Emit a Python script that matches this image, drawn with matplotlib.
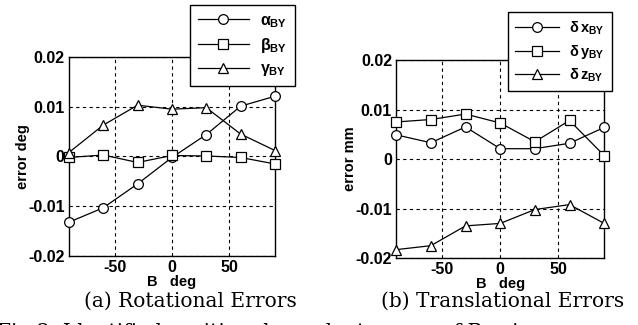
import matplotlib
matplotlib.use("Agg")
import matplotlib.pyplot as plt

angles = [-90, -60, -30, 0, 30, 60, 90]
alpha_by = [-0.0132, -0.0103, -0.0055, -0.0002, 0.0044, 0.0101, 0.0121]
beta_by = [-0.0002, 0.0003, -0.0012, 0.0002, 0.0001, -0.0002, -0.0015]
gamma_by = [0.0008, 0.0063, 0.0103, 0.0095, 0.0098, 0.0045, 0.0012]
dx_by = [0.0049, 0.0033, 0.0065, 0.0021, 0.0021, 0.0032, 0.0064]
dy_by = [0.0075, 0.0080, 0.0091, 0.0073, 0.0035, 0.0078, 0.0007]
dz_by = [-0.0183, -0.0175, -0.0135, -0.0130, -0.0102, -0.0092, -0.0130]

xticks = [-50, 0, 50]
yticks = [-0.02, -0.01, 0, 0.01, 0.02]
ytick_labels = ["-0.02", "-0.01", "0", "0.01", "0.02"]

plt.rcParams['mathtext.fontset'] = 'custom'
plt.rcParams['mathtext.rm'] = 'Liberation Sans:bold'
plt.rcParams['mathtext.it'] = 'Liberation Sans:bold'
plt.rcParams['mathtext.bf'] = 'Liberation Sans:bold'

fig = plt.figure(figsize=(6.38, 3.25), dpi=100)
ax1 = fig.add_axes([0.108, 0.212, 0.323, 0.613])
ax2 = fig.add_axes([0.621, 0.206, 0.326, 0.609])

tickfont = dict(family='Liberation Sans', weight='bold', size=11.5)
labelfont = dict(family='Liberation Sans', weight='bold', size=10.5)

def style(ax, ylabel):
    ax.set_xlim(-90, 90)
    ax.set_ylim(-0.02, 0.02)
    ax.set_xticks(xticks)
    ax.set_xticklabels([str(t) for t in xticks], fontdict=tickfont)
    ax.set_yticks(yticks)
    ax.set_yticklabels(ytick_labels, fontdict=tickfont)
    ax.tick_params(direction='in', length=0, pad=3)
    ax.grid(True, color='black', linestyle=(0, (3, 3)), linewidth=0.8)
    for s in ax.spines.values():
        s.set_linewidth(1.0)
    ax.set_xlabel('B   deg', fontdict=labelfont, labelpad=0)
    ax.set_ylabel(ylabel, fontdict=labelfont, labelpad=-1)

mk = dict(color='black', linewidth=0.9, markerfacecolor='white',
          markeredgecolor='black', markersize=7, markeredgewidth=0.9, clip_on=False)

ax1.plot(angles, alpha_by, marker='o', label=r'$\alpha_{BY}$', zorder=3, **mk)
ax1.plot(angles, beta_by, marker='s', label=r'$\beta_{BY}$', zorder=3, **mk)
ax1.plot(angles, gamma_by, marker='^', label=r'$\gamma_{BY}$', zorder=3, **mk)
style(ax1, 'error deg')

ax2.plot(angles, dx_by, marker='o', label=r'$\delta\,x_{BY}$', zorder=3, **mk)
ax2.plot(angles, dy_by, marker='s', label=r'$\delta\,y_{BY}$', zorder=3, **mk)
ax2.plot(angles, dz_by, marker='^', label=r'$\delta\,z_{BY}$', zorder=3, **mk)
style(ax2, 'error mm')

for ax, anchor, fs, hl in [(ax1, (0.587, 1.261), 11.5, 3.2), (ax2, (0.538, 1.242), 10.5, 3.0)]:
    leg = ax.legend(loc='upper left', bbox_to_anchor=anchor, fancybox=False,
                    edgecolor='black', framealpha=1, fontsize=fs,
                    handlelength=hl, borderpad=0.5, labelspacing=0.4,
                    handletextpad=0.7, borderaxespad=0)
    leg.get_frame().set_linewidth(1.0)
    leg.set_zorder(10)

fig.text(0.298, 0.074, '(a) Rotational Errors', family='DejaVu Serif',
         size=14.5, ha='center', va='center')
fig.text(0.787, 0.074, '(b) Translational Errors', family='DejaVu Serif',
         size=14.5, ha='center', va='center')
fig.text(-0.005, -0.022, 'Fig.3: Identified position-dependent errors of B axis',
         family='DejaVu Serif', size=14.5, ha='left', va='center')

fig.savefig('out.png', dpi=100)
